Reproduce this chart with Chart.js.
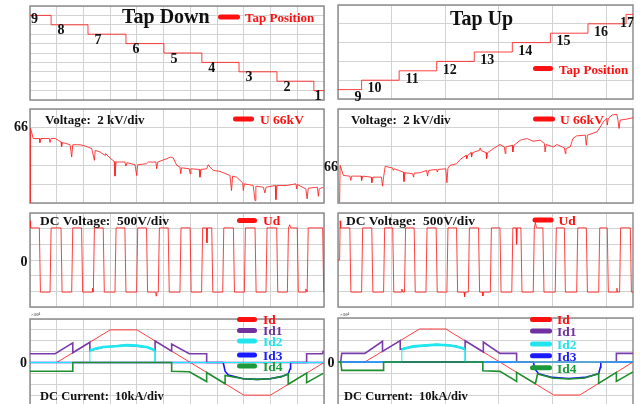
<!DOCTYPE html>
<html>
<head>
<meta charset="utf-8">
<script src="https://cdn.jsdelivr.net/npm/chart.js@4.4.0/dist/chart.umd.min.js"></script>
<style>
  html, body { margin: 0; padding: 0; background: #fff; overflow: hidden; }
  #wrap { position: relative; width: 640px; height: 404px; overflow: hidden; }
  canvas { position: absolute; left: 0; top: 0; }
</style>
</head>
<body>
<div id="wrap">
  <canvas id="tapDown" width="640" height="410"></canvas>
  <canvas id="tapUp" width="640" height="410"></canvas>
  <canvas id="voltDown" width="640" height="410"></canvas>
  <canvas id="voltUp" width="640" height="410"></canvas>
  <canvas id="udDown" width="640" height="410"></canvas>
  <canvas id="udUp" width="640" height="410"></canvas>
  <canvas id="idDown" width="640" height="410"></canvas>
  <canvas id="idUp" width="640" height="410"></canvas>
</div>
<script>
// time axis: left column 0..11 div, right column 0..5.5 div

// tap changer steps (start time of each step, tap position)
const tapDownStart = [0, 0.79, 2.17, 3.59, 5.01, 6.43, 7.82, 9.24, 10.62]
const tapDownPos = [9, 8, 7, 6, 5, 4, 3, 2, 1]
const tapUpStart = [0, 0.44, 1.14, 1.84, 2.54, 3.25, 3.96, 4.66, 5.37]
const tapUpPos = [9, 10, 11, 12, 13, 14, 15, 16, 17]

// 66 kV bus voltage [t, kV]
const uDown = [[0,58.0],[0.02,65.93],[0.12,64.86],[0.35,64.86],[0.37,64.43],[0.41,64.86],[0.72,64.86],[0.75,64.43],[0.79,64.86],[0.94,64.86],[1.16,64.5],[1.18,63.97],[1.22,64.43],[1.5,64.2],[1.56,62.9],[1.6,64.2],[1.87,64.2],[2.06,64.07],[2.31,63.79],[2.41,62.54],[2.44,63.6],[2.62,63.43],[2.81,63.07],[2.83,63.25],[2.99,62.79],[3.15,62.43],[3.18,60.86],[3.22,62.36],[3.55,62.36],[3.59,61.93],[3.63,62.29],[3.93,62.07],[3.99,60.93],[4.03,62.07],[4.36,62.18],[4.43,62.36],[4.71,62.36],[4.74,61.64],[4.78,62.36],[5.11,62.71],[5.26,62.89],[5.36,62.79],[5.49,62.0],[5.61,61.82],[5.64,61.11],[5.67,61.75],[5.96,61.64],[5.99,61.11],[6.02,61.64],[6.33,61.57],[6.36,60.75],[6.4,61.57],[6.61,61.64],[6.67,62.07],[6.73,61.82],[6.86,61.47],[7.11,61.36],[7.48,60.93],[7.54,59.32],[7.58,60.86],[7.73,60.75],[7.96,60.14],[7.98,59.32],[8.02,60.04],[8.35,59.86],[8.42,58.25],[8.45,59.79],[8.73,59.68],[8.79,59.07],[8.83,59.68],[9.18,59.86],[9.2,58.36],[9.24,59.86],[9.6,59.86],[9.95,60.04],[9.98,59.5],[10.01,59.96],[10.32,59.5],[10.37,58.43],[10.41,59.57],[10.75,59.68],[10.79,58.71],[10.82,59.5],[10.97,59.68]]
const uUp = [[0.03,62.1],[0.04,66.0],[0.1,64.93],[0.22,64.86],[0.24,64.4],[0.25,64.86],[0.43,64.86],[0.44,64.4],[0.46,64.86],[0.62,64.75],[0.63,64.15],[0.65,64.75],[0.81,64.75],[0.83,63.79],[0.85,64.75],[0.88,65.9],[1.02,65.72],[1.03,65.47],[1.05,65.64],[1.22,65.29],[1.23,64.29],[1.25,65.22],[1.39,65.11],[1.41,64.75],[1.42,65.18],[1.53,65.22],[1.65,65.47],[1.67,64.86],[1.69,65.47],[1.84,65.57],[1.85,65.29],[1.87,65.57],[2.01,65.64],[2.03,64.15],[2.05,65.72],[2.09,66.0],[2.21,66.18],[2.28,66.64],[2.39,67.07],[2.4,66.72],[2.42,67.07],[2.48,67.36],[2.49,66.89],[2.51,67.36],[2.64,67.61],[2.65,67.86],[2.67,67.57],[2.76,67.36],[2.77,66.72],[2.79,67.36],[2.9,67.79],[3.02,68.22],[3.1,67.97],[3.12,67.25],[3.13,67.97],[3.25,68.14],[3.26,67.43],[3.28,68.14],[3.4,68.68],[3.52,68.86],[3.64,68.57],[3.77,68.68],[3.85,68.32],[3.86,67.43],[3.88,68.22],[4.02,67.97],[4.08,68.22],[4.22,67.86],[4.24,67.25],[4.25,67.79],[4.33,67.97],[4.38,68.86],[4.45,69.14],[4.61,69.22],[4.63,68.14],[4.65,69.22],[4.83,69.57],[4.95,70.64],[5.01,71.0],[5.02,70.29],[5.04,71.0],[5.11,71.36],[5.2,71.43],[5.22,70.82],[5.24,69.93],[5.26,70.82],[5.39,70.93],[5.5,71.07]]

// DC voltage Ud [t, div]
const udDown = [[0,2.5],[0.02,2.05],[0.35,2.05],[0.39,-2.05],[0.75,-2.05],[0.79,2.05],[1.16,2.05],[1.2,-2.05],[1.56,-2.05],[1.6,2.05],[1.93,2.05],[1.97,-2.05],[2.33,-2.05],[2.34,-1.8],[2.37,-2.05],[2.41,2.05],[2.74,2.05],[2.78,-2.05],[3.18,-2.05],[3.22,2.05],[3.55,2.05],[3.59,-2.05],[3.99,-2.05],[4.03,2.05],[4.36,2.05],[4.4,-2.05],[4.7,-2.05],[4.72,-2.3],[4.74,-2.05],[4.8,-2.05],[4.84,2.05],[5.17,2.05],[5.21,-2.05],[5.61,-2.05],[5.65,2.05],[5.99,2.05],[6.03,-2.05],[6.42,-2.05],[6.46,2.05],[6.6,2.05],[6.62,1.1],[6.64,2.05],[6.8,2.05],[6.84,-2.05],[7.21,-2.05],[7.25,2.05],[7.61,2.05],[7.65,-2.05],[8.02,-2.05],[8.06,2.05],[8.42,2.05],[8.46,-2.05],[8.83,-2.05],[8.87,2.05],[9.23,2.05],[9.27,-2.05],[9.63,-2.05],[9.67,2.05],[9.72,2.25],[9.75,2.05],[10.0,2.05],[10.04,-2.05],[10.3,-2.05],[10.32,-1.85],[10.37,-2.05],[10.41,2.05],[10.95,2.05],[10.99,-2.05],[11,-2.05]]
const udUp = [[0,0],[0.03,0],[0.04,2.5],[0.05,2.05],[0.22,2.05],[0.24,-2.05],[0.44,-2.05],[0.46,2.05],[0.63,2.05],[0.65,-2.05],[0.85,-2.05],[0.87,2.05],[1.02,2.05],[1.04,-2.05],[1.18,-2.05],[1.19,-1.85],[1.21,-2.05],[1.24,-2.05],[1.26,2.05],[1.42,2.05],[1.44,-2.05],[1.64,-2.05],[1.66,2.05],[1.83,2.05],[1.85,-2.05],[2.03,-2.05],[2.05,2.05],[2.21,2.05],[2.23,-2.05],[2.35,-2.05],[2.36,-2.35],[2.37,-2.05],[2.43,-2.05],[2.45,2.05],[2.62,2.05],[2.64,-2.05],[2.69,-2.05],[2.7,-2.3],[2.71,-2.05],[2.84,-2.05],[2.86,2.05],[3.02,2.05],[3.04,-2.05],[3.24,-2.05],[3.26,2.05],[3.32,2.05],[3.33,1.0],[3.34,2.05],[3.41,2.05],[3.43,-2.05],[3.64,-2.05],[3.66,2.05],[3.68,2.4],[3.7,2.05],[3.82,2.05],[3.84,-2.05],[4.05,-2.05],[4.07,2.05],[4.22,2.05],[4.24,-2.05],[4.45,-2.05],[4.47,2.05],[4.63,2.05],[4.65,-2.05],[4.86,-2.05],[4.88,2.05],[5.02,2.05],[5.04,-2.05],[5.19,-2.05],[5.2,-1.8],[5.21,-2.05],[5.25,-2.05],[5.27,2.05],[5.45,2.05],[5.47,-2.05],[5.5,-2.05]]

// DC currents [t, div] (10kA/div)
const idDown = [[0,0],[1,0],[3,3],[4,3],[8,-3],[9,-3],[11,0]]
const id1Down = [[0,0.8],[0.94,0.8],[1.6,1.8],[1.6,0.9],[2.24,1.86],[2.24,1.1],[2.74,1.4],[3.6,1.6],[4.4,1.4],[4.68,1.1],[4.68,1.98],[5.3,1.05],[5.3,1.7],[5.96,0.8],[6.61,0.8],[6.61,0],[10.35,0],[10.35,0.8],[10.95,0.8],[10.97,1.1]]
const id2Down = [[0,0],[2.24,0],[2.24,1.1],[2.5,1.3],[2.74,1.42],[3.2,1.5],[3.62,1.6],[4.0,1.55],[4.4,1.4],[4.6,1.2],[4.68,1.1],[4.68,0],[11,0]]
const id3Down = [[0,0],[7.23,0],[7.3,-0.8],[7.42,-1.15],[7.98,-1.5],[8.5,-1.55],[8.98,-1.5],[9.4,-1.3],[9.66,-1.05],[9.73,-0.6],[9.75,0],[11,0]]
const id4Down = [[0,-0.8],[1.6,-0.8],[1.6,0],[5.3,0],[5.3,-0.8],[5.96,-0.85],[6.61,-1.75],[6.61,-0.92],[7.3,-1.95],[7.3,-1.2],[7.98,-1.5],[8.5,-1.55],[8.98,-1.5],[9.4,-1.3],[9.66,-1.05],[9.66,-2.0],[10.35,-0.98],[10.35,-1.85],[10.97,-1.0]]
const idUp = [[0,0],[0.5,0],[1.52,3],[2.01,3],[4.02,-3],[4.51,-3],[5.5,0]]
const id1Up = [[0,0],[0.05,0],[0.07,0.78],[0.5,0.78],[0.83,1.88],[0.83,0.97],[1.16,1.94],[1.16,1.15],[1.4,1.4],[1.84,1.58],[2.2,1.45],[2.37,1.15],[2.37,1.93],[2.71,0.91],[2.71,1.82],[3.02,0.78],[3.33,0.78],[3.33,0],[5.19,0],[5.19,0.78],[5.5,0.78]]
const id2Up = [[0,0],[1.19,0],[1.19,1.15],[1.4,1.42],[1.84,1.58],[2.1,1.5],[2.3,1.3],[2.37,1.15],[2.37,0],[5.5,0]]
const id3Up = [[0,0],[3.64,0],[3.68,-0.7],[3.74,-1.06],[4.0,-1.4],[4.3,-1.5],[4.6,-1.4],[4.86,-1.06],[4.89,-0.5],[4.9,0],[5.5,0]]
const id4Up = [[0,0],[0.05,0],[0.07,-0.76],[0.85,-0.76],[0.85,0],[2.7,0],[2.7,-0.8],[3.02,-0.85],[3.33,-1.76],[3.33,-0.94],[3.68,-1.98],[3.72,-1.1],[4.0,-1.45],[4.3,-1.55],[4.6,-1.45],[4.86,-1.06],[4.86,-1.94],[5.19,-0.94],[5.19,-1.76],[5.5,-0.9]]

const RED = 'rgba(255,30,30,0.85)'
const FONT = '"Liberation Serif", "Times New Roman", serif'

function range(a, b, step) {
  let out = []
  for (let v = a; v <= b + 1e-9; v += step) out.push(v)
  return out
}

// text, legend swatches and step labels for each panel
const extras = {}

const panelPlugin = {
  id: 'panel',
  beforeDatasetsDraw(chart) {
    const a = chart.chartArea
    const c = chart.ctx
    c.save()
    c.strokeStyle = '#8e8e8e'
    c.lineWidth = 1.5
    c.strokeRect(a.left, a.top, a.right - a.left, a.bottom - a.top)
    c.restore()
  },
  afterDraw(chart) {
    const ex = extras[chart.canvas.id]
    if (!ex) return
    const c = chart.ctx
    c.save()
    ;(ex.swatches || []).forEach(s => {
      c.strokeStyle = s.c
      c.lineWidth = 5
      c.lineCap = 'round'
      c.beginPath()
      c.moveTo(s.x1, s.y)
      c.lineTo(s.x2, s.y)
      c.stroke()
    })
    c.textAlign = 'left'
    c.textBaseline = 'alphabetic'
    ;(ex.notes || []).forEach(n => {
      c.font = 'bold ' + n.s + 'px ' + FONT
      c.fillStyle = n.c || '#111'
      c.fillText(n.t, n.x, n.y)
    })
    if (ex.steps) {
      const st = ex.steps
      const a = chart.chartArea
      c.font = 'bold 14px ' + FONT
      c.fillStyle = '#111'
      c.textAlign = 'center'
      c.textBaseline = 'middle'
      st.xs.forEach((t, i) => {
        let px = chart.scales.x.getPixelForValue(t) + (i === 0 ? st.firstDx : st.dx)
        let py = chart.scales.y.getPixelForValue(st.ys[i]) + (i === 0 ? st.firstDy : st.dy)
        px = Math.min(px, a.right - 6)
        c.fillText(String(st.ys[i]), px, py)
      })
    }
    c.restore()
  }
}

function pts(arr) {
  return arr.map(p => ({ x: p[0], y: p[1] }))
}

function trace(arr, color, width, order) {
  return { data: pts(arr), borderColor: color, borderWidth: width, order: order, pointRadius: 0, fill: false }
}

function makeChart(id, box, xr, yr, datasets) {
  const axis = (r) => ({
    type: 'linear',
    min: r[0],
    max: r[1],
    ticks: { display: false },
    afterBuildTicks: s => { s.ticks = range(r[0], r[1], r[2]).map(v => ({ value: v })) },
    grid: { color: '#d2d2d2', lineWidth: 1, drawTicks: false },
    border: { display: false }
  })
  return new Chart(document.getElementById(id), {
    type: 'line',
    data: { datasets: datasets },
    options: {
      responsive: false,
      animation: false,
      events: [],
      devicePixelRatio: 1,
      layout: { padding: { left: box[0], top: box[1], right: 640 - box[2], bottom: 410 - box[3] } },
      plugins: { legend: { display: false }, tooltip: { enabled: false } },
      elements: { point: { radius: 0 }, line: { tension: 0 } },
      scales: { x: axis(xr), y: axis(yr) }
    },
    plugins: [panelPlugin]
  })
}

const L = 30, LR = 324, R = 338, RR = 633
const XL = [0, 11, 1], XR = [0, 5.5, 1]

// row 1: tap positions
extras.tapDown = {
  notes: [
    { t: 'Tap Down', x: 122, y: 23, s: 20 },
    { t: 'Tap Position', x: 245, y: 22, s: 13, c: '#ff1010' }
  ],
  swatches: [{ x1: 220.5, x2: 237.5, y: 17, c: '#ff1010' }],
  steps: { xs: tapDownStart, ys: tapDownPos, dx: 10, dy: 6, firstDx: 4.5, firstDy: 3.5 }
}
makeChart('tapDown', [L, 6, LR, 100], XL, [0, 10, 1], [
  Object.assign(trace(tapDownStart.map((t, i) => [t, tapDownPos[i]]).concat([[11, 1]]), RED, 1, 0), { stepped: true })
])

extras.tapUp = {
  notes: [
    { t: 'Tap Up', x: 450, y: 25, s: 20 },
    { t: 'Tap Position', x: 559, y: 73.5, s: 13, c: '#ff1010' }
  ],
  swatches: [{ x1: 535.5, x2: 550.5, y: 68.5, c: '#ff1010' }],
  steps: { xs: tapUpStart, ys: tapUpPos, dx: 13, dy: 8.5, firstDx: 20, firstDy: 8 }
}
makeChart('tapUp', [R, 5, RR, 99], XR, [8, 18, 2], [
  Object.assign(trace(tapUpStart.map((t, i) => [t, tapUpPos[i]]).concat([[5.5, 17]]), RED, 1, 0), { stepped: true })
])

// row 2: 66 kV voltage
extras.voltDown = {
  notes: [
    { t: 'Voltage:  2 kV/div', x: 45, y: 124, s: 13 },
    { t: 'U 66kV', x: 260, y: 124, s: 13.5, c: '#ff1010' },
    { t: '66', x: 14, y: 131, s: 14 }
  ],
  swatches: [{ x1: 235.5, x2: 251.5, y: 119, c: '#ff1010' }]
}
makeChart('voltDown', [L, 109, LR, 203], XL, [58, 68, 2], [trace(uDown, RED, 1, 0)])

extras.voltUp = {
  notes: [
    { t: 'Voltage:  2 kV/div', x: 351, y: 124, s: 13 },
    { t: 'U 66kV', x: 560, y: 124, s: 13.5, c: '#ff1010' },
    { t: '66', x: 324, y: 171, s: 14 }
  ],
  swatches: [{ x1: 535.5, x2: 552.5, y: 119, c: '#ff1010' }]
}
makeChart('voltUp', [R, 109, RR, 203], XR, [62, 72, 2], [trace(uUp, RED, 1, 0)])

// row 3: DC voltage
extras.udDown = {
  notes: [
    { t: 'DC Voltage:  500V/div', x: 40, y: 224.5, s: 13.5 },
    { t: 'Ud', x: 263, y: 225, s: 13.5, c: '#ff1010' },
    { t: '0', x: 20.5, y: 265.5, s: 14 }
  ],
  swatches: [{ x1: 239.5, x2: 254.5, y: 220.5, c: '#ff1010' }]
}
makeChart('udDown', [L, 213, LR, 307], XL, [-3, 3, 1], [trace(udDown, RED, 1, 0)])

extras.udUp = {
  notes: [
    { t: 'DC Voltage:  500V/div', x: 346, y: 224.5, s: 13.5 },
    { t: 'Ud', x: 558.5, y: 225, s: 13.5, c: '#ff1010' }
  ],
  swatches: [{ x1: 535, x2: 551, y: 220, c: '#ff1010' }]
}
makeChart('udUp', [R, 213, RR, 307], XR, [-3, 3, 1], [trace(udUp, RED, 1, 0)])

// row 4: DC currents
const legendCols = ['#ff1010', '#7030a0', '#22e4ee', '#1a1aff', '#1a9a3a']
const legendNames = ['Id', 'Id1', 'Id2', 'Id3', 'Id4']

function currentSets(id, id1, id2, id3, id4) {
  const cyan = trace(id2, '#1ee8f0', 1, 1)
  cyan.segment = { borderWidth: c => (c.p0.parsed.y > 0.05 && c.p1.parsed.y > 0.05) ? 2.6 : 1 }
  return [
    trace(id4, '#1f8f2e', 1.6, 0),
    cyan,
    trace(id1, '#7a3cad', 1.6, 2),
    trace(id3, '#1515ff', 1.6, 3),
    trace(id, RED, 1, 4)
  ]
}

function legendBlock(x1, x2, tx, ys) {
  return {
    swatches: ys.map((y, i) => ({ x1: x1, x2: x2, y: y, c: legendCols[i] })),
    notes: ys.map((y, i) => ({ t: legendNames[i], x: tx, y: y + 4.8, s: 13.5, c: legendCols[i] }))
  }
}

const lgDown = legendBlock(239.5, 254.5, 263, [319.5, 330.5, 341, 355, 366])
extras.idDown = {
  swatches: lgDown.swatches,
  notes: [
    { t: '\u00d710\u2074', x: 31, y: 316, s: 5, c: '#666' },
    { t: 'DC Current:  10kA/div', x: 40, y: 399.5, s: 12.5 },
    { t: '0', x: 20, y: 367, s: 14 }
  ].concat(lgDown.notes)
}
makeChart('idDown', [L, 319, LR, 406], XL, [-4, 4, 1], currentSets(idDown, id1Down, id2Down, id3Down, id4Down))

const lgUp = legendBlock(532.5, 549.5, 557, [319.5, 331, 344, 355.7, 367.7])
extras.idUp = {
  swatches: lgUp.swatches,
  notes: [
    { t: '\u00d710\u2074', x: 340, y: 316, s: 5, c: '#666' },
    { t: 'DC Current:  10kA/div', x: 344, y: 399.5, s: 12.5 },
    { t: '0', x: 327.5, y: 366.5, s: 14 }
  ].concat(lgUp.notes)
}
makeChart('idUp', [R, 318, RR, 406], XR, [-4, 4, 1], currentSets(idUp, id1Up, id2Up, id3Up, id4Up))
</script>
</body>
</html>
